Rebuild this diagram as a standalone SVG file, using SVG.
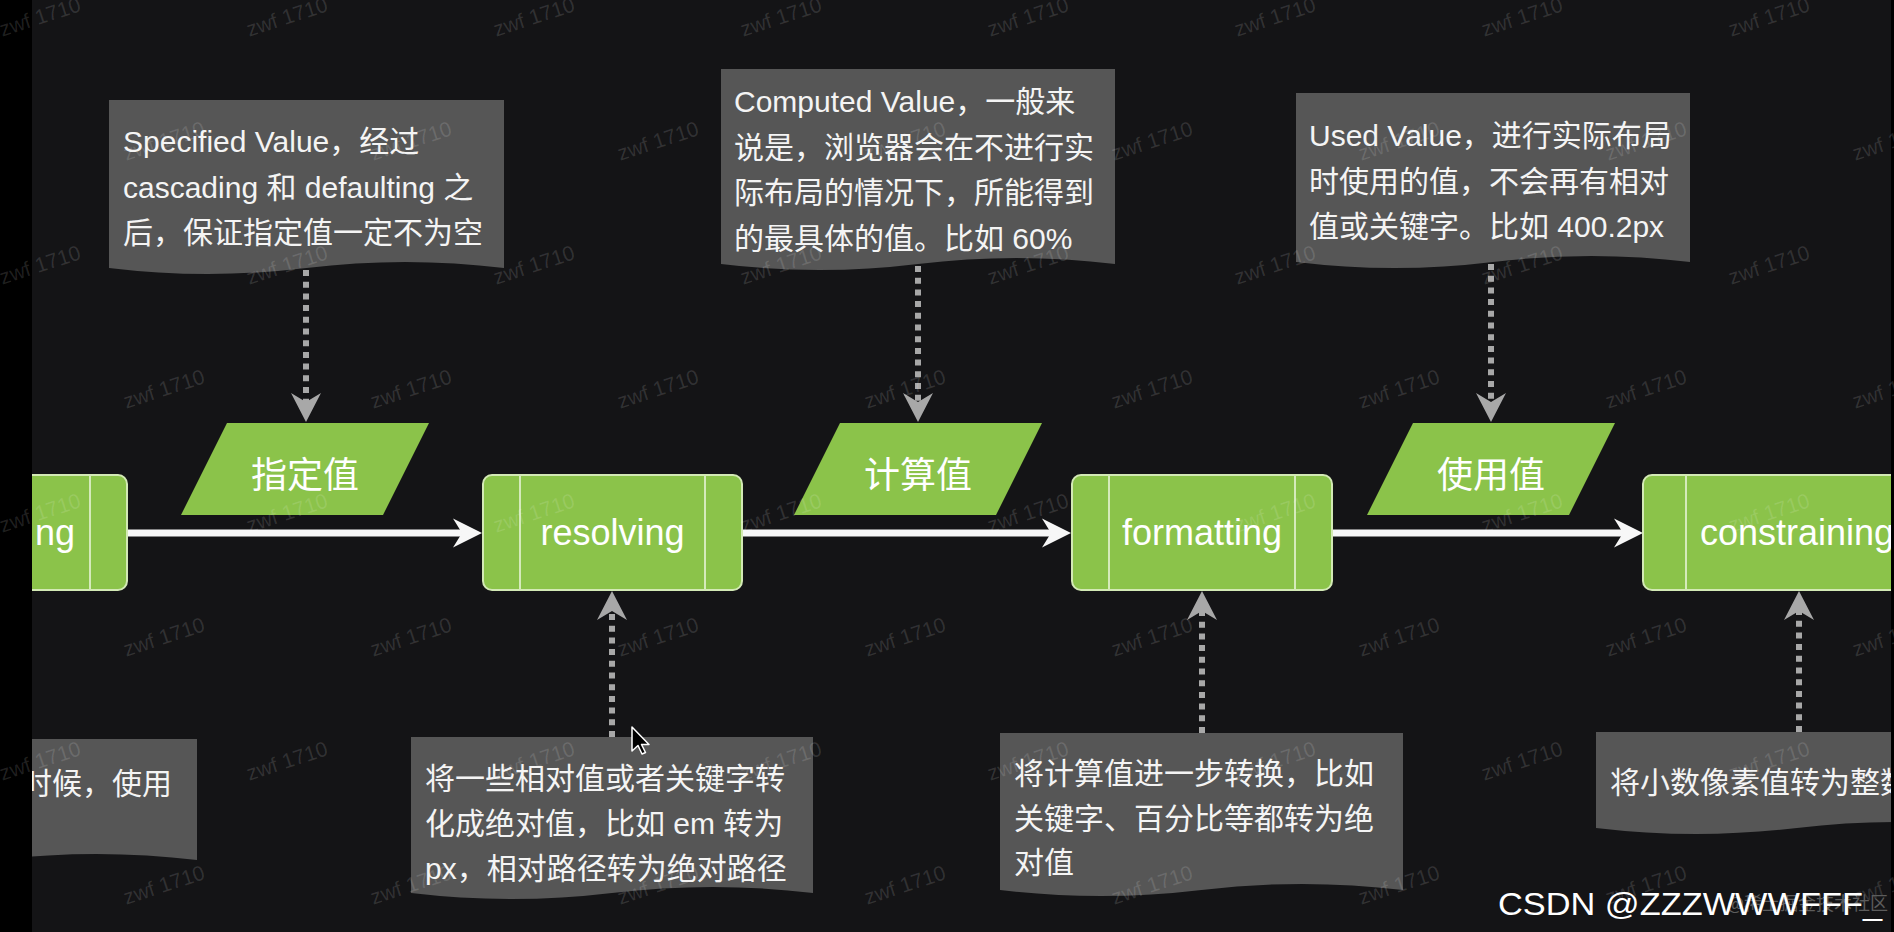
<svg xmlns="http://www.w3.org/2000/svg" xmlns:xlink="http://www.w3.org/1999/xlink" width="1894" height="932" viewBox="0 0 1894 932">
<style>
.bg{fill:#141416}
.box{fill:#8bc34a;stroke:#d3e9b5;stroke-width:2}
.inner{stroke:#eef7e2;stroke-width:1.5}
.para{fill:#8bc34a}
.note{fill:#565656}
.lbl{font-family:"Liberation Sans","Noto Sans CJK SC",sans-serif;font-size:36px;fill:#ffffff}
.plbl{font-family:"Noto Sans CJK SC","Liberation Sans",sans-serif;font-size:36px;fill:#ffffff;text-anchor:middle}
.nt{font-family:"Liberation Sans","Noto Sans CJK SC",sans-serif;font-size:30px;fill:#f4f4f4}
.main{fill:none;stroke:#f7f7f7;stroke-width:7}
.dot{fill:none;stroke:#a8a8a8;stroke-width:6;stroke-dasharray:6 5.7}
.wm{font-family:"Liberation Sans",sans-serif;font-size:21px;fill:#ffffff;fill-opacity:0.13;text-anchor:middle}
</style>
<defs>
<marker id="aw" viewBox="0 0 30 30" refX="11" refY="15" markerWidth="30" markerHeight="30" markerUnits="userSpaceOnUse" orient="auto" overflow="visible">
<path d="M0,0.5 L29,15 L0,29.5 L9,15 Z" fill="#f7f7f7"/>
</marker>
<marker id="ag" viewBox="0 0 30 30" refX="11" refY="15" markerWidth="30" markerHeight="30" markerUnits="userSpaceOnUse" orient="auto" overflow="visible">
<path d="M0,0 L29,15 L0,30 L9,15 Z" fill="#a8a8a8"/>
</marker>
<text id="wm" class="wm" x="0" y="7">zwf 1710</text>
</defs>
<rect class="bg" x="0" y="0" width="1894" height="932"/>

<g id="connectors">
<path class="main" d="M127,533 H464" marker-end="url(#aw)"/>
<path class="main" d="M742,533 H1053" marker-end="url(#aw)"/>
<path class="main" d="M1332,533 H1625" marker-end="url(#aw)"/>
<path class="dot" d="M306,270 V404" marker-end="url(#ag)"/>
<path class="dot" d="M918,266 V404" marker-end="url(#ag)"/>
<path class="dot" d="M1491,264 V404" marker-end="url(#ag)"/>
<path class="dot" d="M612,737 V609" marker-end="url(#ag)"/>
<path class="dot" d="M1202,733 V609" marker-end="url(#ag)"/>
<path class="dot" d="M1799,732 V609" marker-end="url(#ag)"/>
</g>

<g id="node-left">
<rect class="box" x="-132" y="475" width="259" height="115" rx="9"/>
<line class="inner" x1="90" y1="476" x2="90" y2="589"/>
<text class="lbl" x="75" y="545" text-anchor="end">ng</text>
</g>
<g id="node-resolving">
<rect class="box" x="483" y="475" width="259" height="115" rx="9"/>
<line class="inner" x1="520" y1="476" x2="520" y2="589"/>
<line class="inner" x1="705" y1="476" x2="705" y2="589"/>
<text class="lbl" x="612.5" y="545" text-anchor="middle">resolving</text>
</g>
<g id="node-formatting">
<rect class="box" x="1072" y="475" width="260" height="115" rx="9"/>
<line class="inner" x1="1109" y1="476" x2="1109" y2="589"/>
<line class="inner" x1="1295" y1="476" x2="1295" y2="589"/>
<text class="lbl" x="1202" y="545" text-anchor="middle">formatting</text>
</g>
<g id="node-constraining">
<rect class="box" x="1643" y="475" width="259" height="115" rx="9"/>
<line class="inner" x1="1686" y1="476" x2="1686" y2="589"/>
<text class="lbl" x="1700" y="545">constraining</text>
</g>

<g id="data-specified">
<polygon class="para" points="227,423 429,423 383,515 181,515"/>
<text class="plbl" x="305" y="488">指定值</text>
</g>
<g id="data-computed">
<polygon class="para" points="840,423 1042,423 996,515 794,515"/>
<text class="plbl" x="918" y="488">计算值</text>
</g>
<g id="data-used">
<polygon class="para" points="1413,423 1615,423 1569,515 1367,515"/>
<text class="plbl" x="1491" y="488">使用值</text>
</g>

<g id="note-specified">
<path class="note" d="M109,100 H504 V268 Q405,256 306.5,268 T109,268 Z"/>
<text class="nt" x="123" y="152">Specified Value，经过</text>
<text class="nt" x="123" y="197.5">cascading 和 defaulting 之</text>
<text class="nt" x="123" y="243">后，保证指定值一定不为空</text>
</g>
<g id="note-computed">
<path class="note" d="M721,69 H1115 V264 Q1016.5,252 918,264 T721,264 Z"/>
<text class="nt" x="734" y="112">Computed Value，一般来</text>
<text class="nt" x="734" y="157.5">说是，浏览器会在不进行实</text>
<text class="nt" x="734" y="203">际布局的情况下，所能得到</text>
<text class="nt" x="734" y="248.5">的最具体的值。比如 60%</text>
</g>
<g id="note-used">
<path class="note" d="M1296,93 H1690 V262 Q1591.5,250 1493,262 T1296,262 Z"/>
<text class="nt" x="1309" y="146">Used Value，进行实际布局</text>
<text class="nt" x="1309" y="191.5">时使用的值，不会再有相对</text>
<text class="nt" x="1309" y="237">值或关键字。比如 400.2px</text>
</g>
<g id="note-left">
<path class="note" d="M-205,739 H197 V860 Q96.5,848 -4,860 T-205,860 Z"/>
<text class="nt" x="22" y="793.5">时候，使用</text>
</g>
<g id="note-resolving">
<path class="note" d="M411,737 H813 V893 Q712.5,881 612,893 T411,893 Z"/>
<text class="nt" x="425" y="789">将一些相对值或者关键字转</text>
<text class="nt" x="425" y="834">化成绝对值，比如 em 转为</text>
<text class="nt" x="425" y="879">px，相对路径转为绝对路径</text>
</g>
<g id="note-formatting">
<path class="note" d="M1000,733 H1403 V890 Q1302,878 1201.5,890 T1000,890 Z"/>
<text class="nt" x="1014" y="784">将计算值进一步转换，比如</text>
<text class="nt" x="1014" y="828.5">关键字、百分比等都转为绝</text>
<text class="nt" x="1014" y="873">对值</text>
</g>
<g id="note-constraining">
<path class="note" d="M1596,732 H1998 V828 Q1897.5,816 1797,828 T1596,828 Z"/>
<text class="nt" x="1610" y="792.5">将小数像素值转为整数</text>
</g>

<path id="cursor" d="M632,727 V751 L638,745.5 L642,754 L645.5,752.5 L641.5,744.5 L649,744.5 Z" fill="#000" stroke="#fff" stroke-width="1.5" stroke-linejoin="round"/>

<rect x="0" y="0" width="32" height="932" fill="#000"/>
<rect x="1891" y="0" width="3" height="932" fill="#000"/>

<g id="watermarks">
<use xlink:href="#wm" transform="translate(40,17) rotate(-18)"/><use xlink:href="#wm" transform="translate(287,17) rotate(-18)"/><use xlink:href="#wm" transform="translate(534,17) rotate(-18)"/><use xlink:href="#wm" transform="translate(781,17) rotate(-18)"/><use xlink:href="#wm" transform="translate(1028,17) rotate(-18)"/><use xlink:href="#wm" transform="translate(1275,17) rotate(-18)"/><use xlink:href="#wm" transform="translate(1522,17) rotate(-18)"/><use xlink:href="#wm" transform="translate(1769,17) rotate(-18)"/>
<use xlink:href="#wm" transform="translate(164,141) rotate(-18)"/><use xlink:href="#wm" transform="translate(411,141) rotate(-18)"/><use xlink:href="#wm" transform="translate(658,141) rotate(-18)"/><use xlink:href="#wm" transform="translate(905,141) rotate(-18)"/><use xlink:href="#wm" transform="translate(1152,141) rotate(-18)"/><use xlink:href="#wm" transform="translate(1399,141) rotate(-18)"/><use xlink:href="#wm" transform="translate(1646,141) rotate(-18)"/><use xlink:href="#wm" transform="translate(1893,141) rotate(-18)"/>
<use xlink:href="#wm" transform="translate(40,265) rotate(-18)"/><use xlink:href="#wm" transform="translate(287,265) rotate(-18)"/><use xlink:href="#wm" transform="translate(534,265) rotate(-18)"/><use xlink:href="#wm" transform="translate(781,265) rotate(-18)"/><use xlink:href="#wm" transform="translate(1028,265) rotate(-18)"/><use xlink:href="#wm" transform="translate(1275,265) rotate(-18)"/><use xlink:href="#wm" transform="translate(1522,265) rotate(-18)"/><use xlink:href="#wm" transform="translate(1769,265) rotate(-18)"/>
<use xlink:href="#wm" transform="translate(164,389) rotate(-18)"/><use xlink:href="#wm" transform="translate(411,389) rotate(-18)"/><use xlink:href="#wm" transform="translate(658,389) rotate(-18)"/><use xlink:href="#wm" transform="translate(905,389) rotate(-18)"/><use xlink:href="#wm" transform="translate(1152,389) rotate(-18)"/><use xlink:href="#wm" transform="translate(1399,389) rotate(-18)"/><use xlink:href="#wm" transform="translate(1646,389) rotate(-18)"/><use xlink:href="#wm" transform="translate(1893,389) rotate(-18)"/>
<use xlink:href="#wm" transform="translate(40,513) rotate(-18)"/><use xlink:href="#wm" transform="translate(287,513) rotate(-18)"/><use xlink:href="#wm" transform="translate(534,513) rotate(-18)"/><use xlink:href="#wm" transform="translate(781,513) rotate(-18)"/><use xlink:href="#wm" transform="translate(1028,513) rotate(-18)"/><use xlink:href="#wm" transform="translate(1275,513) rotate(-18)"/><use xlink:href="#wm" transform="translate(1522,513) rotate(-18)"/><use xlink:href="#wm" transform="translate(1769,513) rotate(-18)"/>
<use xlink:href="#wm" transform="translate(164,637) rotate(-18)"/><use xlink:href="#wm" transform="translate(411,637) rotate(-18)"/><use xlink:href="#wm" transform="translate(658,637) rotate(-18)"/><use xlink:href="#wm" transform="translate(905,637) rotate(-18)"/><use xlink:href="#wm" transform="translate(1152,637) rotate(-18)"/><use xlink:href="#wm" transform="translate(1399,637) rotate(-18)"/><use xlink:href="#wm" transform="translate(1646,637) rotate(-18)"/><use xlink:href="#wm" transform="translate(1893,637) rotate(-18)"/>
<use xlink:href="#wm" transform="translate(40,761) rotate(-18)"/><use xlink:href="#wm" transform="translate(287,761) rotate(-18)"/><use xlink:href="#wm" transform="translate(534,761) rotate(-18)"/><use xlink:href="#wm" transform="translate(781,761) rotate(-18)"/><use xlink:href="#wm" transform="translate(1028,761) rotate(-18)"/><use xlink:href="#wm" transform="translate(1275,761) rotate(-18)"/><use xlink:href="#wm" transform="translate(1522,761) rotate(-18)"/><use xlink:href="#wm" transform="translate(1769,761) rotate(-18)"/>
<use xlink:href="#wm" transform="translate(164,885) rotate(-18)"/><use xlink:href="#wm" transform="translate(411,885) rotate(-18)"/><use xlink:href="#wm" transform="translate(658,885) rotate(-18)"/><use xlink:href="#wm" transform="translate(905,885) rotate(-18)"/><use xlink:href="#wm" transform="translate(1152,885) rotate(-18)"/><use xlink:href="#wm" transform="translate(1399,885) rotate(-18)"/><use xlink:href="#wm" transform="translate(1646,885) rotate(-18)"/><use xlink:href="#wm" transform="translate(1893,885) rotate(-18)"/>
</g>

<g id="credit">
<text x="1727" y="910" font-family="'Noto Sans CJK SC','Liberation Sans',sans-serif" font-size="18" fill="#5c5c5c">@稀土掘金技术社区</text>
<text x="1498" y="915" font-family="'Liberation Sans',sans-serif" font-size="32" fill="#ffffff" textLength="384" lengthAdjust="spacingAndGlyphs">CSDN @ZZZWWWFFF_</text>
</g>
</svg>
